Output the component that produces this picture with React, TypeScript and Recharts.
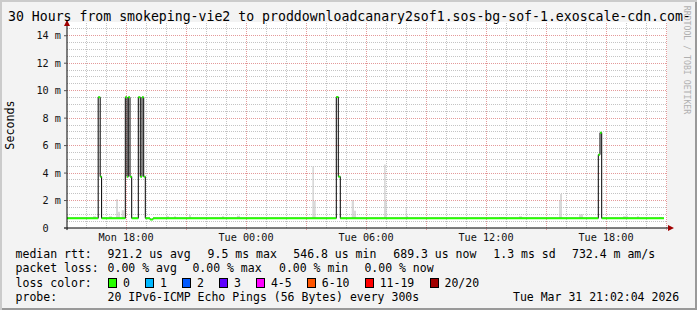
import React from 'react';
import {
	ComposedChart,
	Line,
	Area,
	XAxis,
	YAxis,
	ReferenceLine,
	ReferenceDot,
} from 'recharts';

// time axis: hours since Mon 00:00
const START = 15.05;
const END = 45.05;
const BASE = 0.71;

const xTickHours = [18, 24, 30, 36, 42];
const xTickLabels = ['Mon 18:00', 'Tue 00:00', 'Tue 06:00', 'Tue 12:00', 'Tue 18:00'];
const majorGridX = [18, 21, 24, 27, 30, 33, 36, 39, 42, 45];
const minorGridX = [16, 17, 19, 20, 22, 23, 25, 26, 28, 29, 31, 32, 34, 35, 37, 38, 40, 41, 43, 44];

const yTicks = [0, 2, 4, 6, 8, 10, 12, 14];
const majorGridY = [2, 4, 6, 8, 10, 12, 14];
const minorGridY = [0.5, 1, 1.5, 2.5, 3, 3.5, 4.5, 5, 5.5, 6.5, 7, 7.5, 8.5, 9, 9.5, 10.5, 11, 11.5, 12.5, 13, 13.5, 14.5];

// median rtt (ms), change points
const medianTimes = [15.05, 16.61, 16.71, 16.78, 17.965, 18.05, 18.115, 18.2, 18.285, 18.615, 18.715, 18.8, 18.885, 18.965, 19.2, 19.35, 28.515, 28.615, 28.715, 41.615, 41.7, 41.785, 44.9];
const medianValues = [0.71, 9.52, 3.74, 0.71, 9.52, 3.74, 9.52, 3.74, 0.71, 9.52, 3.74, 9.52, 3.74, 0.71, 0.62, 0.71, 9.54, 3.74, 0.71, 5.34, 6.94, 0.71, 0.71];

// smoke (ping spread), ms
const smokeStart = [16.35, 17.15, 17.5, 17.6, 17.785, 20.0, 20.4, 21.15, 22.8, 23.55, 27.315, 27.4, 29.285, 29.4, 30.9, 30.985, 31.985, 32.035, 36.65, 37.65, 39.65, 39.7, 40.65, 42.85, 43.55, 44.65];
const smokeEnd = [16.5, 17.3, 17.6, 17.7, 17.9, 20.15, 20.5, 21.25, 22.9, 23.7, 27.4, 27.485, 29.4, 29.5, 30.985, 31.035, 32.035, 32.1, 37.05, 37.8, 39.7, 39.8, 40.85, 43.1, 43.65, 44.8];
const smokeTop = [0.85, 0.85, 2.1, 1.19, 1.3, 0.85, 0.85, 0.95, 0.85, 0.9, 4.47, 1.97, 2.04, 1.25, 4.62, 2.0, 1.5, 0.88, 0.8, 0.85, 2.04, 2.47, 1.0, 0.85, 0.85, 0.8];

const lossLabels = ['0', '1', '2', '3', '4-5', '6-10', '11-19', '20/20'];
const lossColors = ['#26ff00', '#00b8ff', '#0059ff', '#5e00ff', '#ff00ff', '#ff5500', '#ff0000', '#a10000'];

const rttTexts = ['median rtt:', '921.2 us avg', '9.5 ms max', '546.8 us min', '689.3 us now', '1.3 ms sd', '732.4 m am/s'];
const rttX = [15.6, 107.6, 207.6, 293.3, 393.3, 493.3, 572];
const lossTexts = ['packet loss:', '0.00 % avg', '0.00 % max', '0.00 % min', '0.00 % now'];
const lossX = [15.6, 107.6, 192.4, 279, 364.4];

const mono = '"DejaVu Sans Mono", monospace';
const GREEN = '#26ff00';
const MINOR = '#c4c4c4';
const MAJOR = '#e49a9a';

const medianData = medianTimes.map((t, i) => ({ t, v: medianValues[i] }));
const smokeData = smokeStart.flatMap((s, i) => [
	{ t: s, r: [BASE, smokeTop[i]] },
	{ t: smokeEnd[i], r: [BASE, BASE] },
]);

function YTick(props: any) {
	const { x, y, payload } = props;
	const v = payload.value;
	const label = v === 0 ? '0  ' : `${v} m`;
	return (
		<text x={x} y={y} dy='0.36em' textAnchor='end' fontFamily={mono} fontSize={10.2} fill='#111' style={{ whiteSpace: 'pre' }}>
			{label}
		</text>
	);
}

function XTick(props: any) {
	const { x, y, payload } = props;
	const idx = xTickHours.indexOf(payload.value);
	return (
		<text x={x} y={y} dy='0.71em' textAnchor='middle' fontFamily={mono} fontSize={10.2} fill='#111'>
			{xTickLabels[idx]}
		</text>
	);
}

const txt = (x: number, cy: number, s: string, size = 11.5) => (
	<div
		key={s + x + cy}
		style={{
			position: 'absolute',
			left: x,
			top: cy - 7,
			height: 14,
			lineHeight: '14px',
			fontSize: size,
			fontFamily: mono,
			whiteSpace: 'pre',
			color: '#000',
		}}
	>
		{s}
	</div>
);

export default function App() {
	let lx = 108;
	const swatches = lossLabels.map((l, i) => {
		const x = lx;
		lx += 30 + 6.97 * l.length;
		return (
			<React.Fragment key={l}>
				<div
					style={{
						position: 'absolute',
						left: x,
						top: 278,
						width: 7,
						height: 8,
						background: lossColors[i],
						border: '1px solid #000',
					}}
				/>
				{txt(x + 15, 282.5, l)}
			</React.Fragment>
		);
	});

	return (
		<div
			style={{
				position: 'absolute',
				left: 0,
				top: 0,
				width: 697,
				height: 310,
				background: '#f3f3f3',
				boxShadow: 'inset 2px 2px 0 #cbcbcb, inset -2px -2px 0 #999999',
				overflow: 'hidden',
			}}
		>
			<div
				style={{
					position: 'absolute',
					left: 687,
					top: 60,
					transform: 'translate(-50%, -50%) rotate(90deg)',
					fontSize: 8.2,
					fontFamily: mono,
					whiteSpace: 'pre',
					lineHeight: '10px',
					color: '#b0b0b0',
				}}
			>
				RRDTOOL / TOBI OETIKER
			</div>
			<div style={{ position: 'absolute', left: 67, top: 22, width: 600, height: 206, background: '#fff' }} />
			<div style={{ position: 'absolute', left: 0, top: 0 }}>
				<ComposedChart width={697} height={310} margin={{ top: 22, right: 30, bottom: 62, left: 5 }}>
					<XAxis
						type='number'
						dataKey='t'
						domain={[START, END]}
						allowDataOverflow
						ticks={xTickHours}
						interval={0}
						height={20}
						axisLine={false}
						tickLine={false}
						tickSize={0}
						tickMargin={6}
						tick={<XTick />}
					/>
					<YAxis
						type='number'
						domain={[0, 15]}
						allowDataOverflow
						ticks={yTicks}
						interval={0}
						width={62}
						axisLine={false}
						tickLine={{ stroke: '#555' }}
						tickSize={3}
						tickMargin={3}
						tick={<YTick />}
					/>
					{minorGridY.map((v) => (
						<ReferenceLine key={'my' + v} y={v} stroke={MINOR} strokeDasharray='1 1' shapeRendering='crispEdges' />
					))}
					{minorGridX.map((h) => (
						<ReferenceLine key={'mx' + h} x={h} stroke={MINOR} strokeDasharray='1 1' shapeRendering='crispEdges' />
					))}
					{majorGridY.map((v) => (
						<ReferenceLine key={'My' + v} y={v} stroke={MAJOR} strokeDasharray='1 1' shapeRendering='crispEdges' />
					))}
					{majorGridX.map((h) => (
						<ReferenceLine
							key={'Mx' + h}
							segment={[{ x: h, y: -0.15 }, { x: h, y: 15 }]}
							ifOverflow='visible'
							stroke={MAJOR}
							strokeDasharray='1 1'
							shapeRendering='crispEdges'
						/>
					))}
					<Area
						data={smokeData}
						dataKey='r'
						type='stepAfter'
						stroke='none'
						fill='#d9d9d9'
						fillOpacity={1}
						isAnimationActive={false}
					/>
					<Line
						data={medianData}
						dataKey='v'
						type='stepAfter'
						stroke='#000'
						strokeWidth={1}
						dot={false}
						isAnimationActive={false}
					/>
					{medianData.slice(0, -1).map((d, i) => (
						<ReferenceLine
							key={'g' + i}
							segment={[{ x: d.t, y: d.v }, { x: medianData[i + 1].t, y: d.v }]}
							stroke={GREEN}
							strokeWidth={2}
						/>
					))}
					<ReferenceLine
						segment={[{ x: START - 0.15, y: 0 }, { x: END + 0.15, y: 0 }]}
						ifOverflow='visible'
						stroke='#000'
					/>
					<ReferenceLine
						segment={[{ x: START, y: -0.15 }, { x: START, y: 15.1 }]}
						ifOverflow='visible'
						stroke='#000'
					/>
					<ReferenceDot
						x={END + 0.2}
						y={0}
						ifOverflow='visible'
						shape={(p: any) => (
							<polygon points={`${p.cx - 3},${p.cy - 3} ${p.cx + 3},${p.cy} ${p.cx - 3},${p.cy + 3}`} fill='#a00000' />
						)}
					/>
					<ReferenceDot
						x={START}
						y={14.93}
						ifOverflow='visible'
						shape={(p: any) => (
							<polygon points={`${p.cx - 3},${p.cy + 3} ${p.cx},${p.cy - 3} ${p.cx + 3},${p.cy + 3}`} fill='#a00000' />
						)}
					/>
				</ComposedChart>
			</div>

			<div
				style={{
					position: 'absolute',
					left: 8,
					top: 9,
					lineHeight: '16px',
					fontSize: 13.2,
					fontFamily: mono,
					whiteSpace: 'pre',
					color: '#000',
				}}
			>
				30 Hours from smokeping-vie2 to proddownloadcanary2sof1.sos-bg-sof-1.exoscale-cdn.com-
			</div>
			<div
				style={{
					position: 'absolute',
					left: 10,
					top: 125,
					transform: 'translate(-50%, -50%) rotate(-90deg)',
					fontSize: 11.7,
					fontFamily: mono,
					whiteSpace: 'pre',
					lineHeight: '14px',
				}}
			>
				Seconds
			</div>

			{rttTexts.map((s, i) => txt(rttX[i], 253.5, s))}
			{lossTexts.map((s, i) => txt(lossX[i], 268, s))}
			{txt(15.6, 282.5, 'loss color:')}
			{swatches}
			{txt(15.6, 296.5, 'probe:')}
			{txt(107.6, 296.5, '20 IPv6-ICMP Echo Pings (56 Bytes) every 300s')}
			{txt(513, 296.5, 'Tue Mar 31 21:02:04 2026')}
		</div>
	);
}
